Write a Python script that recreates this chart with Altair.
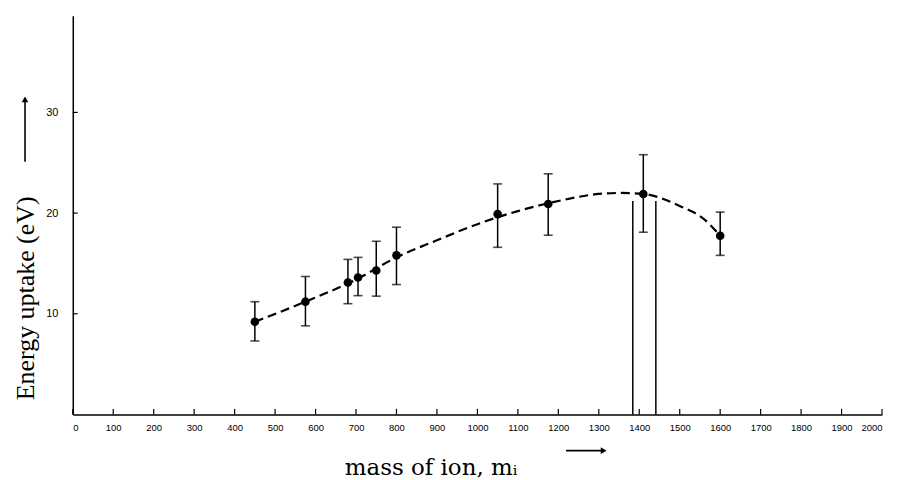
import altair as alt
import pandas as pd

# measured points
mass = [450, 575, 680, 705, 750, 800, 1050, 1175, 1410, 1600]
energy = [9.2, 11.2, 13.1, 13.6, 14.3, 15.8, 19.9, 20.9, 21.9, 17.75]
err_hi = [11.2, 13.7, 15.4, 15.6, 17.2, 18.6, 22.9, 23.9, 25.8, 20.1]
err_lo = [7.3, 8.8, 11.0, 11.8, 11.75, 12.9, 16.6, 17.8, 18.1, 15.8]

# dashed guide curve
curve_mass = [450, 575, 700, 800, 900, 1000, 1100, 1200, 1300, 1350, 1410, 1500, 1560, 1600]
curve_energy = [9.2, 11.2, 13.4, 15.6, 17.3, 18.9, 20.2, 21.2, 21.9, 22.0, 21.9, 20.7, 19.4, 17.75]

# vertical lines
vline_mass = [1384, 1441]
vline_top = [21.2, 21.2]

x_ticks = [0, 100, 200, 300, 400, 500, 600, 700, 800, 900, 1000,
           1100, 1200, 1300, 1400, 1500, 1600, 1700, 1800, 1900, 2000]
y_ticks = [10, 20, 30]

# title arrows (data units)
xarrow_x = [1219, 1312]
xarrow_y = [-3.6]
yarrow_x = [-118]
yarrow_y = [25.1, 31.3]

pts = pd.DataFrame({"mass": mass, "energy": energy, "hi": err_hi, "lo": err_lo})
curve = pd.DataFrame({"mass": curve_mass, "energy": curve_energy})
vlines = pd.DataFrame({"mass": vline_mass, "top": vline_top, "bottom": [0, 0]})
xt = pd.DataFrame({"t": x_ticks, "y0": [0] * len(x_ticks), "y1": [0.55] * len(x_ticks)})
yt = pd.DataFrame({"t": y_ticks, "x0": [0] * len(y_ticks), "x1": [12] * len(y_ticks)})
xarrow = pd.DataFrame({"x0": [xarrow_x[0]], "x1": [xarrow_x[1]], "y": xarrow_y})
yarrow = pd.DataFrame({"x": yarrow_x, "y0": [yarrow_y[0]], "y1": [yarrow_y[1]]})

XDOM = [0, 2000]
YDOM = [0, 39.6]

xscale = alt.Scale(domain=XDOM, nice=False, zero=False)
yscale = alt.Scale(domain=YDOM, nice=False, zero=False)

x_axis = alt.Axis(
    values=x_ticks, format="d", ticks=False, grid=False, domainColor="black", domainWidth=1.5,
    labelFont="Liberation Sans", labelFontSize=9.5, labelColor="black", labelPadding=8,
    title="mass of ion, mᵢ", titleFont="DejaVu Serif", titleFontSize=23,
    titleFontWeight="normal", titleColor="black", titleX=359, titleY=60,
    titleAlign="center", titleBaseline="alphabetic",
)
y_axis = alt.Axis(
    values=y_ticks, ticks=False, grid=False, domainColor="black", domainWidth=1.5,
    labelFont="Liberation Sans", labelFontSize=11, labelColor="black", labelPadding=15,
    title="Energy uptake (eV)", titleFont="Liberation Serif", titleFontSize=26,
    titleFontWeight="normal", titleColor="black", titleX=-47, titleY=283,
    titleAlign="center", titleBaseline="middle", titleAngle=-90,
)

base_x = alt.X("mass:Q", scale=xscale, axis=x_axis)
base_y = alt.Y("energy:Q", scale=yscale, axis=y_axis)

curve_layer = alt.Chart(curve).mark_line(
    color="black", strokeWidth=2.2, strokeDash=[9, 5], interpolate="monotone"
).encode(x=base_x, y=base_y)

err_layer = alt.Chart(pts).mark_rule(color="black", strokeWidth=1.5).encode(
    x=alt.X("mass:Q", scale=xscale), y=alt.Y("lo:Q", scale=yscale), y2="hi:Q"
)
cap_hi = alt.Chart(pts).mark_tick(color="black", orient="horizontal", size=9, thickness=1.6).encode(
    x=alt.X("mass:Q", scale=xscale), y=alt.Y("hi:Q", scale=yscale)
)
cap_lo = alt.Chart(pts).mark_tick(color="black", orient="horizontal", size=9, thickness=1.6).encode(
    x=alt.X("mass:Q", scale=xscale), y=alt.Y("lo:Q", scale=yscale)
)
dots = alt.Chart(pts).mark_point(filled=True, color="black", size=75, opacity=1).encode(
    x=alt.X("mass:Q", scale=xscale), y=alt.Y("energy:Q", scale=yscale)
)
vl = alt.Chart(vlines).mark_rule(color="black", strokeWidth=1.5).encode(
    x=alt.X("mass:Q", scale=xscale), y=alt.Y("bottom:Q", scale=yscale), y2="top:Q"
)
xtick_layer = alt.Chart(xt).mark_rule(color="black", strokeWidth=1.2).encode(
    x=alt.X("t:Q", scale=xscale), y=alt.Y("y0:Q", scale=yscale), y2="y1:Q"
)
ytick_layer = alt.Chart(yt).mark_rule(color="black", strokeWidth=1.2).encode(
    y=alt.Y("t:Q", scale=yscale), x=alt.X("x0:Q", scale=xscale), x2="x1:Q"
)
xarrow_line = alt.Chart(xarrow).mark_rule(color="black", strokeWidth=1.6).encode(
    x=alt.X("x0:Q", scale=xscale), x2="x1:Q", y=alt.Y("y:Q", scale=yscale)
)
xarrow_head = alt.Chart(xarrow).mark_point(
    shape="triangle-right", filled=True, color="black", size=45, opacity=1
).encode(x=alt.X("x1:Q", scale=xscale), y=alt.Y("y:Q", scale=yscale))
yarrow_line = alt.Chart(yarrow).mark_rule(color="black", strokeWidth=1.6).encode(
    x=alt.X("x:Q", scale=xscale), y=alt.Y("y0:Q", scale=yscale), y2="y1:Q"
)
yarrow_head = alt.Chart(yarrow).mark_point(
    shape="triangle-up", filled=True, color="black", size=45, opacity=1
).encode(x=alt.X("x:Q", scale=xscale), y=alt.Y("y1:Q", scale=yscale))

chart = alt.layer(
    curve_layer, err_layer, cap_hi, cap_lo, dots, vl, xtick_layer, ytick_layer,
    xarrow_line, xarrow_head, yarrow_line, yarrow_head,
).properties(
    width=812, height=400,
    autosize=alt.AutoSizeParams(type="none"),
    padding={"left": 65, "top": 7, "right": 10, "bottom": 70},
    background="white",
).configure_view(stroke=None)

chart.save("out.html", embed_options={"renderer": "svg", "actions": False})
